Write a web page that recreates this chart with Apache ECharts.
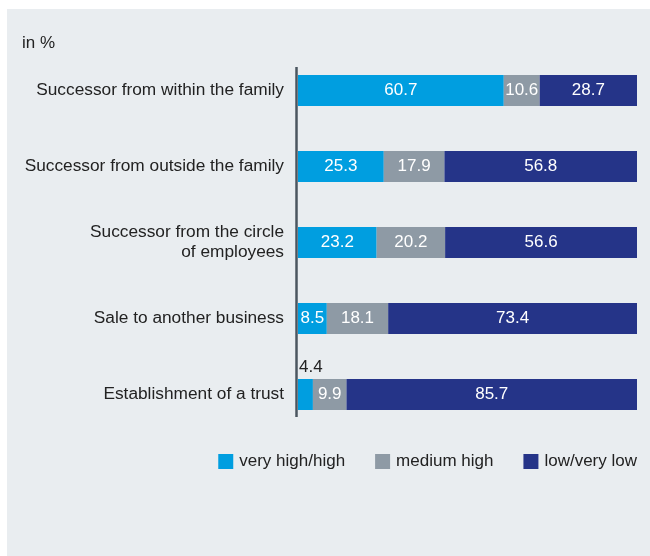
<!DOCTYPE html>
<html>
<head>
<meta charset="utf-8">
<script src="https://cdn.jsdelivr.net/npm/echarts@6/dist/echarts.min.js"></script>
<style>
  html, body { margin: 0; padding: 0; background: #ffffff; }
  #chart { position: absolute; left: 7px; top: 9px; width: 643px; height: 547px; background: #e9edf0; }
</style>
</head>
<body>
<div id="chart"></div>
<script>
// Likelihood of succession options, shares in percent
const categories = [
  'Successor from within the family',
  'Successor from outside the family',
  'Successor from the circle\nof employees',
  'Sale to another business',
  'Establishment of a trust'
];
const veryHighHigh = [60.7, 25.3, 23.2, 8.5, 4.4];
const mediumHigh   = [10.6, 17.9, 20.2, 18.1, 9.9];
const lowVeryLow   = [28.7, 56.8, 56.6, 73.4, 85.7];
const seriesNames = ['very high/high', 'medium high', 'low/very low'];
const colors = ['#009ee0', '#8e9aa5', '#253488'];

const FONT = '"Liberation Sans", Arial, Helvetica, sans-serif';
const TEXT = '#222222';

// Segments too narrow for an inside label get their label placed above the bar
const NARROW = 6;

function segmentData(values) {
  return values.map(v => {
    if (v < NARROW) {
      return {
        value: v,
        label: {
          position: [1, -3],
          align: 'left',
          verticalAlign: 'bottom',
          color: TEXT
        }
      };
    }
    return v;
  });
}

function makeSeries(name, values, color) {
  return {
    name: name,
    type: 'bar',
    stack: 'total',
    barWidth: 31,
    itemStyle: { color: color },
    label: {
      show: true,
      position: 'inside',
      color: '#ffffff',
      fontFamily: FONT,
      fontSize: 17,
      formatter: p => p.value.toFixed(1)
    },
    emphasis: { disabled: true },
    data: segmentData(values)
  };
}

const chart = echarts.init(document.getElementById('chart'), null, { renderer: 'canvas' });

chart.setOption({
  animation: false,
  textStyle: { fontFamily: FONT },
  title: {
    text: 'in %',
    left: 15,
    top: 26,
    padding: 0,
    textStyle: { fontFamily: FONT, fontSize: 17, fontWeight: 'normal', color: TEXT }
  },
  legend: {
    data: seriesNames,
    right: 13,
    top: 444,
    padding: 0,
    itemWidth: 15,
    itemHeight: 15,
    itemGap: 30,
    icon: 'rect',
    textStyle: { fontFamily: FONT, fontSize: 17, color: TEXT, padding: [0, 0, 0, 1] }
  },
  grid: {
    left: 291,
    right: 13,
    top: 43.5,
    height: 380,
    containLabel: false
  },
  xAxis: {
    type: 'value',
    min: 0,
    max: 100,
    show: false
  },
  yAxis: {
    type: 'category',
    inverse: true,
    data: categories,
    axisLine: { show: false },
    axisTick: { show: false },
    splitLine: { show: false },
    axisLabel: {
      margin: 14,
      fontFamily: FONT,
      fontSize: 17.3,
      color: TEXT,
      lineHeight: 20,
      align: 'right',
      padding: [3, 0, 0, 0]
    }
  },
  // vertical baseline to the left of the bars
  graphic: [{
    type: 'line',
    silent: true,
    shape: { x1: 289.5, y1: 58, x2: 289.5, y2: 408 },
    style: { stroke: '#4b5660', lineWidth: 2.5 }
  }],
  series: [
    makeSeries(seriesNames[0], veryHighHigh, colors[0]),
    makeSeries(seriesNames[1], mediumHigh, colors[1]),
    makeSeries(seriesNames[2], lowVeryLow, colors[2])
  ]
});
</script>
</body>
</html>
